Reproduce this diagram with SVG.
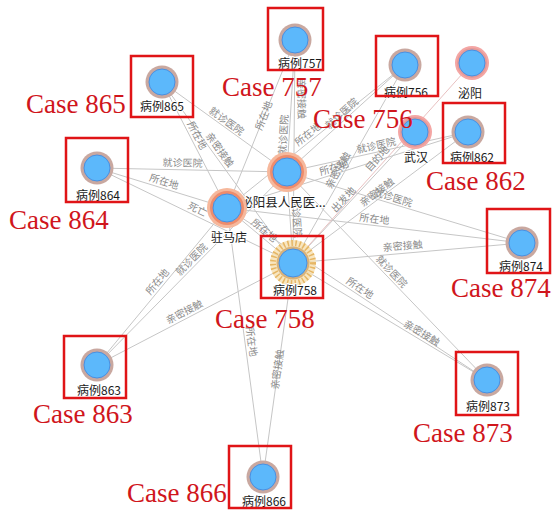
<svg xmlns="http://www.w3.org/2000/svg" width="554" height="513" viewBox="0 0 554 513">
<style>
.edge{stroke:#c6c6c6;stroke-width:1;fill:none}
.el{font-family:"Noto Sans CJK SC","Noto Sans",sans-serif;font-size:10px;fill:#8a8a8a;text-anchor:middle}
.nl{font-family:"Noto Sans CJK SC","Noto Sans",sans-serif;font-size:12px;fill:#1a1a1a;text-anchor:middle;stroke:#fff;stroke-width:2;paint-order:stroke}
.case{font-family:"Liberation Serif","Times New Roman",serif;font-size:27px;fill:#d0161c}
.box{fill:none;stroke:#e01417;stroke-width:2.5}
.core{fill:#5cb8fb;stroke:#4a8fe0;stroke-width:1}
.ring{fill:#c9a8a0}
.hub1{fill:#f6b89c}
.hub2{fill:#ee8c6c}
.pink{fill:#f4a6a4}
</style>
<rect width="554" height="513" fill="#fff"/>
<g id="connectors">
<line class="edge" x1="162" y1="82" x2="287" y2="172"/>
<line class="edge" x1="162" y1="82" x2="227" y2="208"/>
<line class="edge" x1="162" y1="82" x2="293" y2="263"/>
<line class="edge" x1="295" y1="40" x2="287" y2="172"/>
<line class="edge" x1="295" y1="40" x2="227" y2="208"/>
<line class="edge" x1="295" y1="40" x2="293" y2="263"/>
<line class="edge" x1="97" y1="168" x2="287" y2="172"/>
<line class="edge" x1="97" y1="168" x2="227" y2="208"/>
<line class="edge" x1="97" y1="168" x2="293" y2="263"/>
<line class="edge" x1="97" y1="365" x2="227" y2="208"/>
<line class="edge" x1="97" y1="365" x2="287" y2="172"/>
<line class="edge" x1="97" y1="365" x2="293" y2="263"/>
<line class="edge" x1="263" y1="477" x2="227" y2="208"/>
<line class="edge" x1="263" y1="477" x2="293" y2="263"/>
<line class="edge" x1="522" y1="243" x2="287" y2="172"/>
<line class="edge" x1="522" y1="243" x2="227" y2="208"/>
<line class="edge" x1="522" y1="243" x2="293" y2="263"/>
<line class="edge" x1="487" y1="380" x2="287" y2="172"/>
<line class="edge" x1="487" y1="380" x2="227" y2="208"/>
<line class="edge" x1="487" y1="380" x2="293" y2="263"/>
<line class="edge" x1="293" y1="263" x2="287" y2="172"/>
<line class="edge" x1="293" y1="263" x2="227" y2="208"/>
<line class="edge" x1="293" y1="263" x2="415" y2="132"/>
<line class="edge" x1="293" y1="263" x2="472" y2="63" style="stroke:#e8c0c0"/>
<line class="edge" x1="405" y1="65" x2="287" y2="172"/>
<line class="edge" x1="405" y1="65" x2="227" y2="208"/>
<line class="edge" x1="405" y1="65" x2="293" y2="263"/>
<line class="edge" x1="468" y1="132" x2="287" y2="172"/>
<line class="edge" x1="468" y1="132" x2="227" y2="208"/>
<line class="edge" x1="468" y1="132" x2="293" y2="263"/>
<g>
<text class="el" transform="translate(224.5,124) rotate(35.8)">就诊医院</text>
<text class="el" transform="translate(194,137) rotate(62.7)">所在地</text>
<text class="el" transform="translate(217,152) rotate(54.1)">亲密接触</text>
<text class="el" transform="translate(287,135) rotate(-86.5)">就诊医院</text>
<text class="el" transform="translate(267,117) rotate(-68)">所在地</text>
<text class="el" transform="translate(298,99) rotate(89.5)">亲密接触</text>
<text class="el" transform="translate(182.5,166.5) rotate(1.2)">就诊医院</text>
<text class="el" transform="translate(163,185) rotate(17.1)">所在地</text>
<text class="el" transform="translate(196,212.5) rotate(25.9)">死亡</text>
<text class="el" transform="translate(160,284) rotate(-50.4)">所在地</text>
<text class="el" transform="translate(194,262) rotate(-45.5)">就诊医院</text>
<text class="el" transform="translate(186,315) rotate(-27.5)">亲密接触</text>
<text class="el" transform="translate(248,342) rotate(82.4)">所在地</text>
<text class="el" transform="translate(281,370) rotate(-82)">亲密接触</text>
<text class="el" transform="translate(392,201) rotate(16.8)">就诊医院</text>
<text class="el" transform="translate(374,222.5) rotate(6.8)">所在地</text>
<text class="el" transform="translate(403,249.5) rotate(-5)">亲密接触</text>
<text class="el" transform="translate(389,274) rotate(46.1)">就诊医院</text>
<text class="el" transform="translate(358,291) rotate(33.5)">所在地</text>
<text class="el" transform="translate(420,336) rotate(31.1)">亲密接触</text>
<text class="el" transform="translate(293,218) rotate(86.2)">就诊医院</text>
<text class="el" transform="translate(262,233) rotate(39.8)">所在地</text>
<text class="el" transform="translate(346,202) rotate(-47)">出发地</text>
<text class="el" transform="translate(380,161) rotate(-48.2)">目的地</text>
<text class="el" transform="translate(344,116) rotate(-42.2)">就诊医院</text>
<text class="el" transform="translate(310,137) rotate(-38.8)">所在地</text>
<text class="el" transform="translate(341,172) rotate(-60.5)">亲密接触</text>
<text class="el" transform="translate(377,149) rotate(-12.5)">就诊医院</text>
<text class="el" transform="translate(335,171) rotate(-17.5)">所在地</text>
<text class="el" transform="translate(379,195) rotate(-36.8)">亲密接触</text>
</g>
</g>
<g id="n-hospital"><circle cx="287" cy="172" r="20" class="hub1"/><circle cx="287" cy="172" r="17" class="hub2"/><circle cx="287" cy="172" r="14" class="core"/><text class="nl" x="283" y="207" style="font-size:12.5px">泌阳县人民医...</text></g>
<g id="n-zhumadian"><circle cx="227" cy="208" r="20" class="hub1"/><circle cx="227" cy="208" r="17" class="hub2"/><circle cx="227" cy="208" r="14" class="core"/><text class="nl" x="229" y="242">驻马店</text></g>
<g id="n-wuhan"><circle cx="415" cy="132" r="17" class="pink"/><circle cx="415" cy="132" r="15" fill="#e49a98"/><circle cx="415" cy="132" r="13" class="core"/><text class="nl" x="416" y="162">武汉</text></g>
<g id="n-biyang"><circle cx="472" cy="63" r="17" class="pink"/><circle cx="472" cy="63" r="15" fill="#e49a98"/><circle cx="472" cy="63" r="13" class="core"/><text class="nl" x="470" y="98">泌阳</text></g>
<g id="n-758"><circle cx="293" cy="263" r="23" fill="#f6e0b0" opacity="0.8"/><circle cx="293" cy="263" r="20" fill="none" stroke="#e6b664" stroke-width="6" stroke-dasharray="1.5 2.5"/><circle cx="293" cy="263" r="16.5" fill="#d8b27a"/><circle cx="293" cy="263" r="14" class="core"/><text class="nl" x="295" y="295">病例758</text><rect class="box" x="261" y="236" width="62" height="62"/></g>
<g id="n-757"><circle cx="295" cy="40" r="16.5" class="ring"/><circle cx="295" cy="40" r="13" class="core"/><text class="nl" x="300" y="68">病例757</text><rect class="box" x="268" y="8" width="55" height="62"/></g>
<g id="n-865"><circle cx="162" cy="82" r="16.5" class="ring"/><circle cx="162" cy="82" r="13" class="core"/><text class="nl" x="162" y="111">病例865</text><rect class="box" x="131" y="56" width="62" height="61"/></g>
<g id="n-756"><circle cx="405" cy="65" r="16.5" class="ring"/><circle cx="405" cy="65" r="13" class="core"/><text class="nl" x="406" y="97">病例756</text><rect class="box" x="376" y="36" width="62" height="60"/></g>
<g id="n-862"><circle cx="468" cy="132" r="16.5" class="ring"/><circle cx="468" cy="132" r="13" class="core"/><text class="nl" x="472" y="162">病例862</text><rect class="box" x="443" y="103" width="62" height="60"/></g>
<g id="n-864"><circle cx="97" cy="168" r="16.5" class="ring"/><circle cx="97" cy="168" r="13" class="core"/><text class="nl" x="98" y="200">病例864</text><rect class="box" x="66" y="138" width="62" height="64"/></g>
<g id="n-874"><circle cx="522" cy="243" r="16.5" class="ring"/><circle cx="522" cy="243" r="13" class="core"/><text class="nl" x="521" y="271">病例874</text><rect class="box" x="487" y="209" width="63" height="64"/></g>
<g id="n-863"><circle cx="97" cy="365" r="16.5" class="ring"/><circle cx="97" cy="365" r="13" class="core"/><text class="nl" x="99" y="395">病例863</text><rect class="box" x="64" y="336" width="62" height="62"/></g>
<g id="n-866"><circle cx="263" cy="477" r="16.5" class="ring"/><circle cx="263" cy="477" r="13" class="core"/><text class="nl" x="264" y="506">病例866</text><rect class="box" x="229" y="446" width="62" height="62"/></g>
<g id="n-873"><circle cx="487" cy="380" r="16.5" class="ring"/><circle cx="487" cy="380" r="13" class="core"/><text class="nl" x="488" y="411">病例873</text><rect class="box" x="456" y="352" width="62" height="63"/></g>
<g id="case-labels">
<text class="case" x="222" y="96">Case 757</text>
<text class="case" x="26" y="113">Case 865</text>
<text class="case" x="313" y="128">Case 756</text>
<text class="case" x="426" y="190">Case 862</text>
<text class="case" x="9" y="229">Case 864</text>
<text class="case" x="451" y="297">Case 874</text>
<text class="case" x="215" y="328">Case 758</text>
<text class="case" x="33" y="423">Case 863</text>
<text class="case" x="127" y="502">Case 866</text>
<text class="case" x="413" y="442">Case 873</text>
</g>
</svg>
